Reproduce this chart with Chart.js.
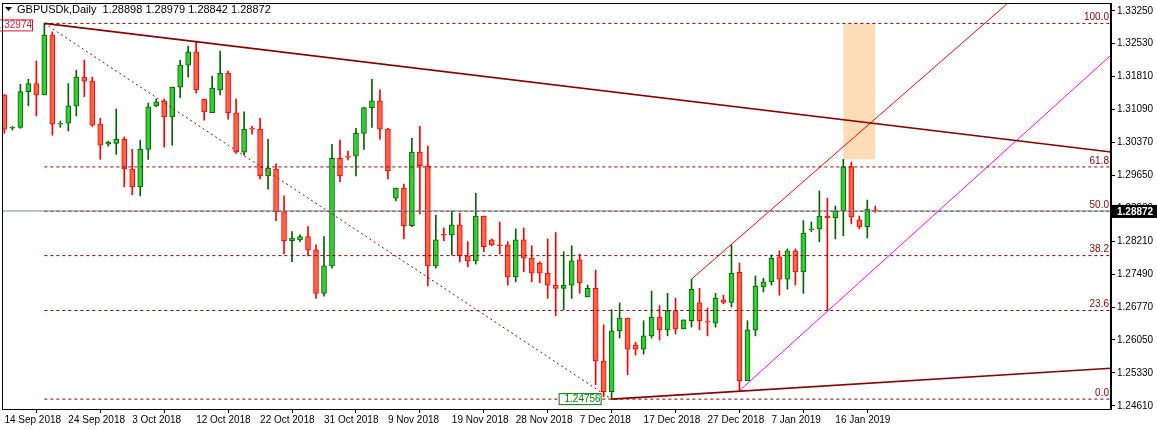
<!DOCTYPE html>
<html><head><meta charset="utf-8">
<script src="https://cdn.jsdelivr.net/npm/chart.js@4"></script>
<style>html,body{margin:0;padding:0;background:#fff;}canvas{display:block;}</style>
</head><body>
<canvas id="c" width="1157" height="430"></canvas>
<script>
const opens=[1.3141,1.3068,1.3070,1.3148,1.3166,1.3141,1.3272,1.3077,1.3079,1.3117,1.3180,1.3171,1.3077,1.3033,1.3035,1.3044,1.2979,1.2940,1.3022,1.3117,
1.3128,1.3093,1.3158,1.3206,1.3235,1.3132,1.3102,1.3152,1.3188,1.3102,1.3016,1.3068,1.3066,1.2964,1.2979,1.2885,1.2822,1.2824,1.2831,1.2802,
1.2707,1.2767,1.3002,1.3007,1.3007,1.3057,1.3113,1.3128,1.3066,1.2915,1.2937,1.2855,1.3016,1.2986,1.2767,1.2835,1.2835,1.2857,1.2789,1.2778,
1.2876,1.2824,1.2813,1.2813,1.2743,1.2824,1.2784,1.2773,1.2751,1.2725,1.2718,1.2725,1.2780,1.2699,1.2718,1.2559,1.2492,1.2625,1.2653,1.2594,
1.2585,1.2614,1.2655,1.2627,1.2669,1.2629,1.2647,1.2686,1.2645,1.2642,1.2693,1.2687,1.2753,1.2516,1.2627,1.2721,1.2732,1.2787,1.2738,1.2800,
1.2754,1.2846,1.2848,1.2876,1.2872,1.2887,1.2984,1.2868,1.2852,1.28898];
const highs=[1.3141,1.3072,1.3164,1.3175,1.3215,1.32974,1.3279,1.3084,1.3166,1.3195,1.3217,1.3180,1.3090,1.3040,1.3110,1.3049,1.3022,1.3042,1.3123,1.3132,
1.3132,1.3158,1.3217,1.3248,1.3257,1.3132,1.3182,1.3237,1.3193,1.3132,1.3104,1.3072,1.3090,1.3044,1.2990,1.2920,1.2842,1.2835,1.2853,1.2813,
1.2831,1.3033,1.3042,1.3018,1.3068,1.3113,1.3175,1.3152,1.3068,1.2937,1.2946,1.3046,1.3072,1.3029,1.2878,1.2850,1.2887,1.2882,1.2820,1.2926,
1.2876,1.2826,1.2863,1.2820,1.2848,1.2850,1.2811,1.2776,1.2826,1.2840,1.2798,1.2811,1.2793,1.2725,1.2758,1.2638,1.2671,1.2686,1.2653,1.2600,
1.2647,1.2712,1.2680,1.2707,1.2696,1.2649,1.2738,1.2718,1.2675,1.2707,1.2703,1.2813,1.2773,1.2647,1.2745,1.2740,1.2791,1.2800,1.2804,1.2804,
1.2866,1.2863,1.2931,1.2915,1.2898,1.3000,1.2994,1.2876,1.2911,1.28979];
const lows=[1.3057,1.3064,1.3068,1.3117,1.3095,1.3141,1.3053,1.3070,1.3062,1.3095,1.3137,1.3072,1.3000,1.3029,1.3011,1.2940,1.2922,1.2920,1.3000,1.3115,
1.3027,1.3031,1.3135,1.3180,1.3145,1.3086,1.3102,1.3141,1.3088,1.3013,1.3009,1.3055,1.2957,1.2935,1.2866,1.2793,1.2776,1.2820,1.2789,1.2696,
1.2701,1.2762,1.2951,1.2999,1.2964,1.3022,1.3070,1.3044,1.2957,1.2909,1.2826,1.2853,1.2880,1.2723,1.2762,1.2822,1.2791,1.2776,1.2765,1.2771,
1.2798,1.2811,1.2793,1.2725,1.2732,1.2754,1.2732,1.2730,1.2696,1.2658,1.2671,1.2696,1.2707,1.2699,1.2507,1.2481,1.24756,1.2609,1.2529,1.2572,
1.2574,1.2609,1.2605,1.2614,1.2618,1.2629,1.2633,1.2627,1.2614,1.2633,1.2684,1.2677,1.2494,1.2516,1.2614,1.2710,1.2725,1.2703,1.2716,1.2725,
1.2707,1.2842,1.2820,1.2669,1.2826,1.2833,1.2859,1.2848,1.2828,1.28842];
const closes=[1.3066,1.3070,1.3148,1.3166,1.3141,1.3272,1.3077,1.3079,1.3117,1.3180,1.3171,1.3075,1.3031,1.3038,1.3044,1.2979,1.2940,1.3022,1.3115,1.3126,
1.3093,1.3158,1.3206,1.3235,1.3152,1.3104,1.3156,1.3188,1.3102,1.3016,1.3066,1.3066,1.2964,1.2981,1.2885,1.2822,1.2828,1.2831,1.2802,1.2707,
1.2767,1.3002,1.2964,1.3005,1.3057,1.3113,1.3128,1.3066,1.2975,1.2937,1.2855,1.3016,1.2986,1.2767,1.2824,1.2834,1.2857,1.2789,1.2778,1.2876,
1.2809,1.2813,1.2811,1.2743,1.2824,1.2784,1.2751,1.2751,1.2725,1.2718,1.2725,1.2778,1.2730,1.2718,1.2559,1.2492,1.2625,1.2653,1.2585,1.2585,
1.2614,1.2655,1.2627,1.2669,1.2629,1.2649,1.2716,1.2647,1.2644,1.2696,1.2687,1.2751,1.2516,1.2627,1.2723,1.2732,1.2784,1.2738,1.2800,1.2754,
1.2839,1.2848,1.2876,1.2872,1.2887,1.2984,1.2874,1.2852,1.2891,1.28872];
const tickIndex=[0,8,16,24,32,40,48,56,64,72,80,88,96,104];
const tickDates=['14 Sep 2018','24 Sep 2018','3 Oct 2018','12 Oct 2018','22 Oct 2018','31 Oct 2018','9 Nov 2018','19 Nov 2018','28 Nov 2018','7 Dec 2018','17 Dec 2018','27 Dec 2018','7 Jan 2019','16 Jan 2019'];
const priceTicks=[1.24610,1.25330,1.26050,1.26770,1.27490,1.28210,1.28930,1.29650,1.30370,1.31090,1.31810,1.32530,1.33250];
const fibLevels=[0,23.6,38.2,50,61.8,100];
const swingHigh=1.32974, swingLow=1.24756, lastPrice=1.28872;
const header='GBPUSDk,Daily  1.28898 1.28979 1.28842 1.28872';

const up=i=>closes[i]>=opens[i];
const idx=opens.map((_,i)=>i);
const fibPrice=l=>swingLow+(swingHigh-swingLow)*l/100;
const seg=(x1,y1,x2,y2,color,w,dash)=>({type:'line',data:[{x:x1,y:y1},{x:x2,y:y2}],borderColor:color,borderWidth:w,borderDash:dash||[],pointRadius:0,fill:false,order:0});
const DR='#8b0000';
const datasets=[
 {type:'bar',data:idx.map(i=>({x:i,y:[lows[i],highs[i]]})),backgroundColor:idx.map(i=>up(i)?'#006400':'#ff0000'),barThickness:1,grouped:false,order:3},
 {type:'bar',data:idx.map(i=>({x:i,y:[opens[i],closes[i]]})),backgroundColor:idx.map(i=>up(i)?'#32cd32':'#ff6347'),borderColor:idx.map(i=>up(i)?'#006400':'#ff0000'),borderWidth:1,borderSkipped:false,barThickness:5,grouped:false,order:2,minBarLength:1},
 seg(-1,lastPrice,140,lastPrice,'#778899',1),
 ...fibLevels.map(l=>seg(5,fibPrice(l),140,fibPrice(l),DR,1,[3,3])),
 seg(5,swingHigh,76,swingLow,DR,1,[2,3]),
 seg(5,swingHigh,138.5,1.3016,DR,1.6),
 seg(76,swingLow,138.5,1.2543,DR,1.6),
 seg(86,1.2738,130,1.3409,'#ff0000',1),
 seg(92,1.2494,138.5,1.3228,'#ff00ff',1)
];
const FONT='10px "Liberation Sans", Arial, sans-serif';
const overlay={id:'overlay',
 beforeDatasetsDraw(ch){const {ctx}=ch,x=ch.scales.x,y=ch.scales.y,a=ch.chartArea;
  ctx.save();ctx.beginPath();ctx.rect(a.left,a.top,a.right-a.left,a.bottom-a.top);ctx.clip();
  ctx.fillStyle='#fddcb8';const x1=x.getPixelForValue(105),x2=x.getPixelForValue(109),y1=y.getPixelForValue(swingHigh),y2=y.getPixelForValue(1.3000);
  ctx.fillRect(x1,y1,x2-x1,y2-y1);ctx.restore();},
 afterDraw(ch){const {ctx}=ch,x=ch.scales.x,y=ch.scales.y,a=ch.chartArea;
  ctx.save();ctx.font=FONT;
  ctx.fillStyle=DR;ctx.textAlign='right';ctx.textBaseline='bottom';
  fibLevels.forEach(l=>ctx.fillText(l.toFixed(1),a.right-2,y.getPixelForValue(fibPrice(l))-1));
  let yy=y.getPixelForValue(swingHigh);
  ctx.fillStyle='#fff';ctx.fillRect(-10,yy-4,43,11);ctx.strokeStyle='#dc143c';ctx.lineWidth=1;ctx.strokeRect(-10.5,yy-3.5,43,11);
  ctx.fillStyle='#dc143c';ctx.textBaseline='middle';ctx.fillText(swingHigh.toFixed(5),32,yy+2);
  yy=y.getPixelForValue(swingLow);let xx=x.getPixelForValue(76)-10;
  ctx.fillStyle='#fff';ctx.fillRect(xx-43,yy-6,43,12);ctx.strokeStyle='#008000';ctx.strokeRect(xx-42.5,yy-5.5,42,11);
  ctx.fillStyle='#008000';ctx.fillText(swingLow.toFixed(5),xx-1,yy+0.5);
  ctx.strokeStyle='#000';ctx.strokeRect(a.left+0.5,a.top+0.5,a.right-a.left-1,a.bottom-a.top);
  yy=y.getPixelForValue(lastPrice);
  ctx.fillStyle='#000';ctx.fillRect(a.right+1,yy-6,45,13);
  ctx.fillStyle='#fff';ctx.textAlign='left';ctx.font='bold 10px "Liberation Sans", Arial, sans-serif';ctx.fillText(lastPrice.toFixed(5),a.right+6,yy+1);
  ctx.fillStyle='#000';ctx.beginPath();ctx.moveTo(5,7);ctx.lineTo(12,7);ctx.lineTo(8.5,11);ctx.closePath();ctx.fill();
  ctx.font='11px "Liberation Sans", Arial, sans-serif';ctx.fillText(header,17,10);
  ctx.restore();}
};
new Chart(document.getElementById('c'),{
 data:{datasets},
 plugins:[overlay],
 options:{responsive:false,devicePixelRatio:1,animation:false,
  layout:{padding:{top:3,left:2,right:0,bottom:0}},
  plugins:{legend:{display:false},tooltip:{enabled:false}},
  scales:{
   x:{type:'linear',min:-0.3,max:138.5,offset:false,
     afterBuildTicks:s=>{s.ticks=tickIndex.map(v=>({value:v}));},
     afterFit:s=>{s.height=21;},
     ticks:{autoSkip:false,maxRotation:0,align:'start',padding:1,color:'#000',font:{family:'"Liberation Sans", Arial',size:10},
       callback:v=>tickDates[tickIndex.indexOf(v)]},
     grid:{drawOnChartArea:false,tickLength:4,color:'#000'},border:{color:'#000'}},
   y:{type:'linear',position:'right',min:1.2454,max:1.3342,
     afterBuildTicks:s=>{s.ticks=priceTicks.map(v=>({value:v}));},
     afterFit:s=>{s.width=46;s.paddingTop=0;s.paddingBottom=0;},
     ticks:{padding:2,color:'#000',font:{family:'"Liberation Sans", Arial',size:10,lineHeight:0.4},callback:v=>v.toFixed(5)},
     grid:{drawOnChartArea:false,tickLength:4,color:'#000'},border:{color:'#000'}}
  }}
});
</script></body></html>
